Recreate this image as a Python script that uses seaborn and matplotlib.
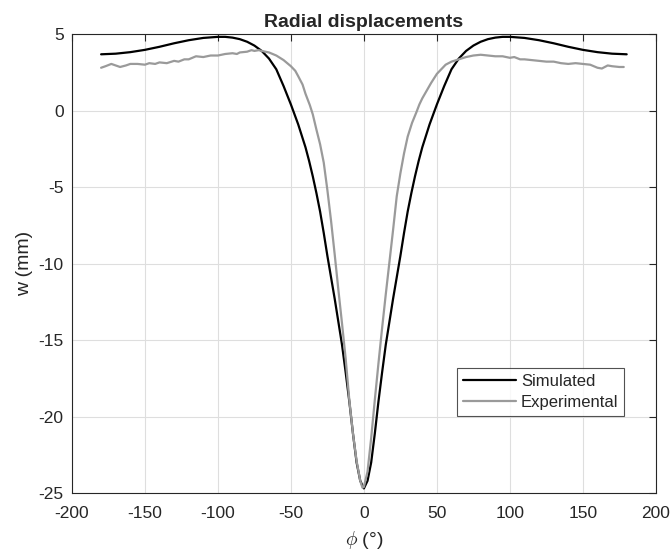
import numpy as np
import pandas as pd
import matplotlib
matplotlib.use("Agg")
import matplotlib.pyplot as plt
import seaborn as sns

# Simulated (symmetric) radial displacement
sim_phi = [-180, -170, -160, -150, -140, -130, -120, -110, -100, -95, -90, -85, -80, -75, -70,
           -65, -60, -55, -50, -45, -40, -37.5, -35, -32.5, -30, -27.5, -25, -22.5, -20, -17.5,
           -15, -12.5, -10, -7.5, -5, -2.5, 0,
           2.5, 5, 7.5, 10, 12.5, 15, 17.5, 20, 22.5, 25, 27.5, 30, 32.5, 35, 37.5, 40, 45,
           50, 55, 60, 65, 70, 75, 80, 85, 90, 95, 100, 110, 120, 130, 140, 150, 160, 170, 180]
sim_w = [3.68, 3.72, 3.82, 3.97, 4.17, 4.4, 4.6, 4.75, 4.82, 4.82, 4.77, 4.67, 4.5, 4.25, 3.9,
         3.4, 2.7, 1.6, 0.4, -0.9, -2.4, -3.3, -4.3, -5.4, -6.6, -8.0, -9.5, -10.9, -12.3, -13.8,
         -15.3, -17.1, -19.0, -21.1, -23.0, -24.2, -24.7,
         -24.2, -23.0, -21.1, -19.0, -17.1, -15.3, -13.8, -12.3, -10.9, -9.5, -8.0, -6.6, -5.4,
         -4.3, -3.3, -2.4, -0.9, 0.4, 1.6, 2.7, 3.4, 3.9, 4.25, 4.5, 4.67, 4.77, 4.82, 4.82,
         4.75, 4.6, 4.4, 4.17, 3.97, 3.82, 3.72, 3.68]

# Experimental radial displacement
exp_phi = [-180, -177, -173, -170, -167, -163, -160, -155, -150, -147, -143, -140, -135, -130,
           -127, -123, -120, -115, -110, -105, -100, -95, -90, -87, -85, -80, -77, -75, -72, -70,
           -65, -60, -55, -50, -47, -45, -42, -40, -37, -35, -32.5, -30, -27.5, -25, -22.5, -20,
           -17.5, -15, -12.5, -10, -7.5, -5, -2.5, -1, 0, 2.5, 5, 7.5, 10, 12.5, 15, 17.5, 20,
           22.5, 25, 27.5, 30, 33, 36, 38, 40, 43, 46, 50, 53, 56, 60, 65, 70, 75, 80, 85, 90,
           95, 100, 103, 107, 110, 115, 120, 125, 130, 135, 140, 145, 150, 155, 160, 163, 167,
           170, 175, 178]
exp_w = [2.8, 2.9, 3.05, 2.95, 2.85, 2.95, 3.05, 3.05, 3.0, 3.1, 3.05, 3.15, 3.1, 3.25,
         3.2, 3.35, 3.35, 3.55, 3.5, 3.6, 3.6, 3.7, 3.75, 3.7, 3.8, 3.85, 3.95, 3.9, 3.95, 3.9,
         3.8, 3.6, 3.3, 2.9, 2.6, 2.25, 1.7, 1.1, 0.35, -0.25, -1.25, -2.2, -3.4, -5.2, -7.2,
         -9.4, -11.7, -13.9, -16.2, -18.9, -21.1, -22.9, -24.2, -24.65, -24.6, -23.6, -21.4,
         -18.9, -16.5, -14.2, -12.0, -9.9, -7.8, -5.6, -4.1, -2.8, -1.7, -0.8, -0.1, 0.4, 0.8,
         1.3, 1.8, 2.4, 2.7, 3.0, 3.2, 3.35, 3.5, 3.6, 3.65, 3.6, 3.55, 3.55, 3.45, 3.5, 3.35,
         3.35, 3.3, 3.25, 3.2, 3.2, 3.1, 3.05, 3.1, 3.05, 3.0, 2.8, 2.75, 2.95, 2.9, 2.85, 2.85]

x_ticks = [-200, -150, -100, -50, 0, 50, 100, 150, 200]
y_ticks = [-25, -20, -15, -10, -5, 0, 5]

sns.set_style("white")
plt.rcParams['font.family'] = ['Liberation Sans', 'DejaVu Sans']
plt.rcParams['mathtext.fontset'] = 'cm'
plt.rcParams['axes.unicode_minus'] = False

fig = plt.figure(figsize=(6.72, 5.5), dpi=100)
ax = fig.add_axes([0.107, 0.1036, 0.869, 0.8344])

df_sim = pd.DataFrame({"phi": sim_phi, "w": sim_w})
df_exp = pd.DataFrame({"phi": exp_phi, "w": exp_w})

sns.lineplot(data=df_sim, x="phi", y="w", ax=ax, color="black", linewidth=1.6,
             sort=False, label="Simulated")
sns.lineplot(data=df_exp, x="phi", y="w", ax=ax, color="#9a9a9a", linewidth=1.6,
             sort=False, label="Experimental")

ax.set_xlim(-200, 200)
ax.set_ylim(-25, 5)
ax.set_xticks(x_ticks)
ax.set_yticks(y_ticks)
ax.grid(True, color="#dedede", linewidth=0.8)
ax.set_axisbelow(True)
for s in ax.spines.values():
    s.set_color("#262626")
    s.set_linewidth(0.8)
ax.tick_params(direction="in", length=5, width=0.8, color="#262626",
               labelsize=12.5, top=True, right=True, labelcolor="#262626")
ax.tick_params(axis="x", pad=9)
ax.tick_params(axis="y", pad=6)

ax.set_title("Radial displacements", fontsize=14, fontweight="bold", pad=5)
ax.set_xlabel(r"$\phi$ (°)", fontsize=14, color="#262626", labelpad=6)
ax.set_ylabel("w (mm)", fontsize=14, color="#262626", labelpad=4)

leg = ax.legend(loc="upper left", bbox_to_anchor=(0.659, 0.272), fontsize=12,
                frameon=True, fancybox=False, handlelength=3.2, borderpad=0.35,
                labelspacing=0.35, handletextpad=0.3, borderaxespad=0)
leg.get_frame().set_edgecolor("#262626")
leg.get_frame().set_linewidth(0.8)

fig.savefig("out.png", dpi=100)
